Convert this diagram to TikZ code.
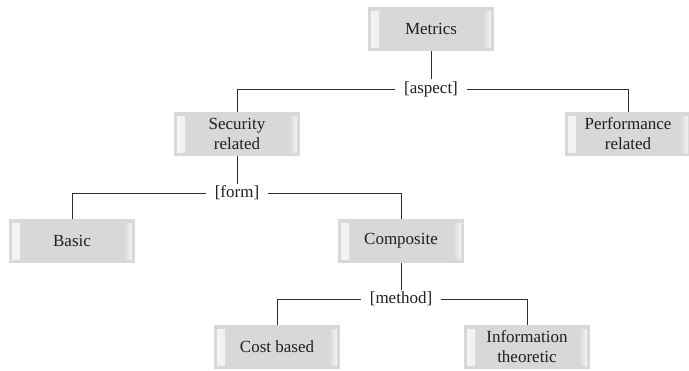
\documentclass[tikz,border=0pt]{standalone}
\usepackage{fontspec}
\setmainfont{Liberation Serif}
\definecolor{boxgray}{RGB}{216,216,216}
\definecolor{bevel}{RGB}{244,244,244}
\definecolor{linegray}{RGB}{45,45,45}
\tikzset{
  mbox/.style={fill=boxgray, minimum width=126pt, minimum height=44pt, inner sep=2pt,
    align=center, font=\fontsize{17}{20}\selectfont, text=black!88,
    path picture={
      \shade[left color=bevel, right color=boxgray]
        ([xshift=3pt,yshift=-4pt]path picture bounding box.north west) rectangle
        ([xshift=11pt,yshift=4pt]path picture bounding box.south west);
      \shade[left color=boxgray, right color=bevel]
        ([xshift=-11pt,yshift=-4pt]path picture bounding box.north east) rectangle
        ([xshift=-3pt,yshift=4pt]path picture bounding box.south east);
    }},
  lbl/.style={inner xsep=9pt, inner ysep=2pt, font=\fontsize{17}{20}\selectfont, text=black!88},
  conn/.style={draw=linegray, line width=0.9pt}
}
\begin{document}
\begin{tikzpicture}[x=1pt,y=-1pt]
\useasboundingbox[fill=white] (0,0) rectangle (689,370);
\node[mbox] (metrics) at (431,29) {Metrics};
\node[lbl] (aspect) at (431,89) {[aspect]};
\node[mbox] (sec) at (237,134) {Security\\related};
\node[mbox] (perf) at (628,134) {Performance\\related};
\node[lbl] (form) at (237,193) {[form]};
\node[mbox] (basic) at (72,241) {Basic};
\node[mbox] (comp) at (401,241) {Composite};
\node[lbl] (method) at (401,299) {[method]};
\node[mbox] (cost) at (277,347) {Cost based};
\node[mbox] (info) at (527,347) {Information\\theoretic};

\draw[conn] (metrics.south) -- (aspect.north);
\draw[conn] (aspect.west) -| (sec.north);
\draw[conn] (aspect.east) -| (perf.north);
\draw[conn] (sec.south) -- (form.north);
\draw[conn] (form.west) -| (basic.north);
\draw[conn] (form.east) -| (comp.north);
\draw[conn] (comp.south) -- (method.north);
\draw[conn] (method.west) -| (cost.north);
\draw[conn] (method.east) -| (info.north);
\end{tikzpicture}
\end{document}
